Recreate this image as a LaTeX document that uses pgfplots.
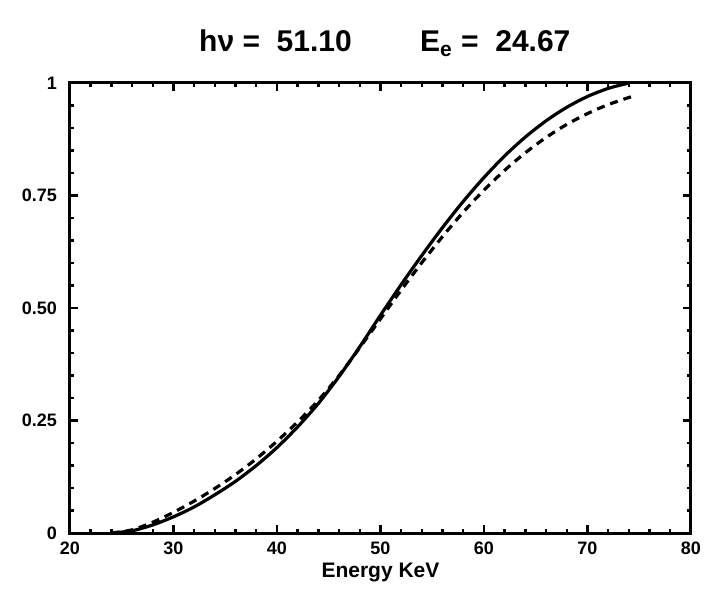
\documentclass[border=0pt]{standalone}
\usepackage{fontspec}
\setmainfont{Liberation Sans}
\usepackage{pgfplots}
\pgfplotsset{compat=1.18}

% solid curve
\pgfplotstableread{
x y
24 0
26 0.005
28 0.018
30 0.036
32 0.058
34 0.085
36 0.115
38 0.150
40 0.190
42 0.236
44 0.288
46 0.348
48 0.414
50 0.484
52 0.552
54 0.617
56 0.679
58 0.737
60 0.790
62 0.838
64 0.880
66 0.916
68 0.946
70 0.970
72 0.988
74 1.000
}\solidcurve

% dashed curve
\pgfplotstableread{
x y
24 0
26 0.007
28 0.024
30 0.046
32 0.071
34 0.099
36 0.130
38 0.165
40 0.204
42 0.247
44 0.295
46 0.350
48 0.412
50 0.476
52 0.540
54 0.601
56 0.659
58 0.713
60 0.762
62 0.806
64 0.845
66 0.879
68 0.908
70 0.932
72 0.952
74.3 0.970
}\dashedcurve

\begin{document}
\begin{tikzpicture}
\path[use as bounding box] (-35pt,-28.5pt) rectangle (317.5pt,266.5pt);
\begin{axis}[
  scale only axis,
  width=310.5pt, height=225pt,
  at={(0,0)}, anchor=south west,
  xmin=20, xmax=80, ymin=0, ymax=1,
  xtick={20,30,...,80},
  minor x tick num=4,
  ytick={0,0.25,0.5,0.75,1},
  yticklabels={0,0.25,0.50,0.75,1},
  minor y tick num=4,
  tick align=inside,
  major tick length=4pt,
  minor tick length=2pt,
  every tick/.style={black, line width=1.2pt},
  axis line style={line width=1.5pt},
  tick label style={font=\bfseries\fontsize{9}{10}\selectfont},
  /pgf/number format/assume math mode=true,
  yticklabel style={xshift=-3pt},
  xticklabel style={yshift=-1pt},
  xlabel={\bfseries\fontsize{10.5}{12}\selectfont Energy KeV},
  xlabel style={yshift=3pt},
  clip=false,
]
\addplot[black, line width=1.6pt, smooth] table {\solidcurve};
\addplot[black, line width=1.6pt, dash pattern=on 4pt off 3pt, smooth] table {\dashedcurve};
\node[anchor=base, font=\bfseries\fontsize{15}{18}\selectfont]
  at (rel axis cs:0.507,1) [yshift=15.5pt] {hν = \ 51.10 \qquad E\textsubscript{e} = \ 24.67};
\end{axis}
\end{tikzpicture}
\end{document}
